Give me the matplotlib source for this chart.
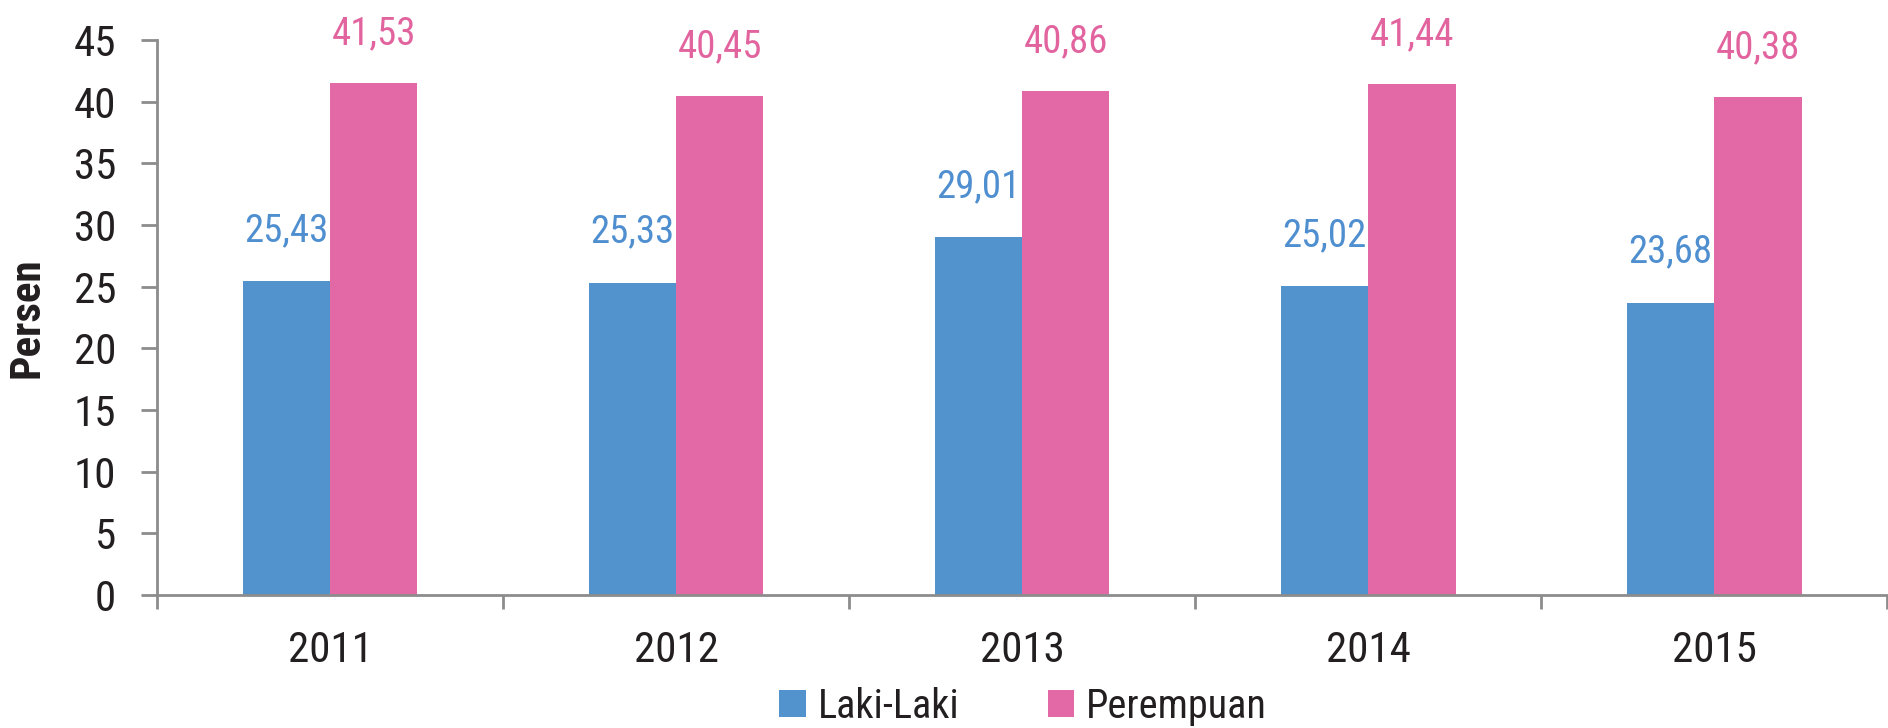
import matplotlib
matplotlib.use("Agg")
import matplotlib.pyplot as plt
import matplotlib.font_manager as fm
import numpy as np
from matplotlib.patches import Patch

years = ["2011", "2012", "2013", "2014", "2015"]
laki = [25.43, 25.33, 29.01, 25.02, 23.68]
perempuan = [41.53, 40.45, 40.86, 41.44, 40.38]
laki_labels = ["25,43", "25,33", "29,01", "25,02", "23,68"]
perempuan_labels = ["41,53", "40,45", "40,86", "41,44", "40,38"]


def _is_narrow(f):
    s = str(f.stretch).lower()
    n = (f.name + " " + f.fname).lower()
    base = n.split('/')[-1]
    return ('condensed' in s or 'narrow' in s or 'condensed' in n or 'narrow' in n) \
        and 'extra' not in s and 'ultra' not in s and 'semi' not in s \
        and 'extra' not in base and 'semi' not in base


narrow = [f for f in fm.fontManager.ttflist if _is_narrow(f) and f.style == 'normal']
order = ['Liberation Sans Narrow', 'Roboto Condensed', 'Open Sans Condensed',
         'Noto Sans', 'Noto Sans Condensed', 'DejaVu Sans', 'DejaVu Sans Condensed']
chosen = None
for name in order:
    c = [f for f in narrow if f.name == name]
    if c:
        chosen = c[0]
        break
if chosen is None and narrow:
    chosen = narrow[0]

if chosen is not None:
    plt.rcParams['font.family'] = [chosen.name, 'DejaVu Sans']
    plt.rcParams['font.stretch'] = chosen.stretch
else:
    plt.rcParams['font.family'] = ['DejaVu Sans']

BLUE = '#5293CE'
PINK = '#E369A6'
BLUE_T = '#4F8FD0'
PINK_T = '#E2649F'
GRAY = '#8C8C8C'
TXT = '#231F20'

fig = plt.figure(figsize=(18.88, 7.28), dpi=100)
ax = fig.add_axes([0.0832, 0.1827, 0.9165, 0.7624])

x = np.arange(len(years))
w = 0.252
ax.bar(x - w / 2, laki, w, color=BLUE, label='Laki-Laki')
ax.bar(x + w / 2, perempuan, w, color=PINK, label='Perempuan')

for xi, v, s in zip(x, laki, laki_labels):
    ax.annotate(s, (xi - w / 2, v), xytext=(0, 29), textcoords='offset points',
                ha='center', va='baseline', fontsize=28, color=BLUE_T)
for xi, v, s in zip(x, perempuan, perempuan_labels):
    ax.annotate(s, (xi + w / 2, v), xytext=(0, 28), textcoords='offset points',
                ha='center', va='baseline', fontsize=28, color=PINK_T)

ax.set_xlim(-0.5, len(years) - 0.5)
ax.set_ylim(0, 45)
ax.set_yticks(np.arange(0, 46, 5))
ax.set_xticks(x)
ax.set_xticklabels(years)
ax.set_xticks(np.arange(-0.5, len(years), 1.0), minor=True)

for s in ['top', 'right']:
    ax.spines[s].set_visible(False)
for s in ['left', 'bottom']:
    ax.spines[s].set_color(GRAY)
    ax.spines[s].set_linewidth(2)

ax.tick_params(axis='y', length=11.5, width=2, color=GRAY, pad=18,
               labelsize=31, labelcolor=TXT)
ax.tick_params(axis='x', which='major', length=0, pad=25, labelsize=31, labelcolor=TXT)
ax.tick_params(axis='x', which='minor', length=10, width=2, color=GRAY)

ax.set_ylabel('Persen', fontsize=31, fontweight='bold', color=TXT)
ax.yaxis.set_label_coords(-0.0636, 0.5)

handles = [Patch(facecolor=BLUE, label='Laki-Laki'), Patch(facecolor=PINK, label='Perempuan')]
fig.legend(handles=handles, loc='center', bbox_to_anchor=(0.542, 0.03), ncol=2,
           frameon=False, fontsize=29, handlelength=0.65, handleheight=0.65,
           handletextpad=0.3, columnspacing=2.2, labelcolor=TXT)

fig.savefig('out.png', dpi=100)
